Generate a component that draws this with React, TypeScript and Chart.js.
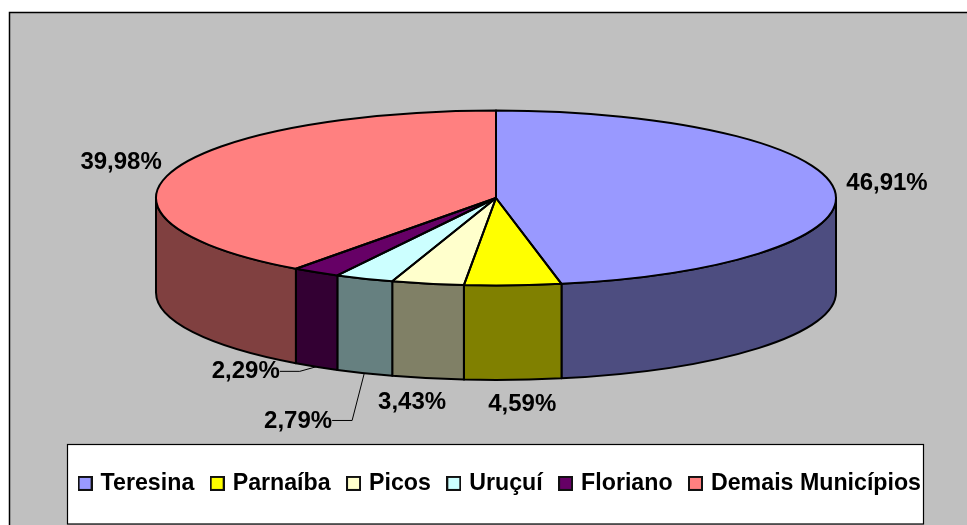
import React, { useEffect, useRef } from "react";
import { Chart, registerables } from "chart.js";

Chart.register(...registerables);

const categories = ["Teresina", "Parnaíba", "Picos", "Uruçuí", "Floriano", "Demais Municípios"];
const shares = [46.91, 4.59, 3.43, 2.79, 2.29, 39.98];
const colors = ["#9999FF", "#FFFF00", "#FFFFCC", "#CCFFFF", "#660066", "#FF8080"];
const sideColors = ["#4D4D80", "#808000", "#808066", "#668080", "#330033", "#804040"];

// layout (separate from the data): offset of each value label from its slice's rim midpoint
const labelOffsets: [number, number][] = [
  [52.6, -6],
  [9.4, 118.6],
  [-15.6, 118.2],
  [-66.2, 142.3],
  [-70.4, 99.6],
  [-51.6, -8.6],
];
const leaderSlices = [3, 4];
const RX = 340;
const RY = 87.5;
const CY = 198;
const DEPTH = 94.5;
const FONT = "'Liberation Sans', Arial, sans-serif";

function swatch(color: string) {
  const c = document.createElement("canvas");
  c.width = 15;
  c.height = 15;
  const g = c.getContext("2d")!;
  g.fillStyle = color;
  g.fillRect(0, 0, 15, 15);
  g.strokeStyle = "#111";
  g.lineWidth = 2;
  g.strokeRect(1, 1, 13, 13);
  return c;
}

const toScreen = (a: any, angle: number, cx: number) => ({
  x: cx + a.outerRadius * Math.cos(angle),
  y: CY + (a.outerRadius * Math.sin(angle) * RY) / RX,
});

const pie3d = {
  id: "pie3d",
  beforeDraw(chart: any) {
    const ctx = chart.ctx;
    ctx.save();
    ctx.fillStyle = "#fff";
    ctx.fillRect(0, 0, chart.width, chart.height);
    ctx.fillStyle = "#C0C0C0";
    ctx.strokeStyle = "#000";
    ctx.lineWidth = 1.5;
    ctx.fillRect(9.5, 12.5, chart.width, chart.height);
    ctx.strokeRect(9.5, 12.5, chart.width, chart.height);
    ctx.fillStyle = "#fff";
    ctx.fillRect(67.5, 444.5, 856, 79.5);
    ctx.lineWidth = 1.2;
    ctx.strokeRect(67.5, 444.5, 856, 79.5);
    ctx.restore();
  },
  beforeDatasetsDraw(chart: any) {
    const ctx = chart.ctx;
    const arcs = chart.getDatasetMeta(0).data;
    const wall = (a: any, i: number) => {
      const s = Math.max(a.startAngle, 0);
      const e = Math.min(a.endAngle, Math.PI);
      if (e <= s) return;
      const k = RY / RX;
      ctx.beginPath();
      ctx.ellipse(a.x, CY, a.outerRadius, a.outerRadius * k, 0, s, e);
      ctx.ellipse(a.x, CY + DEPTH, a.outerRadius, a.outerRadius * k, 0, e, s, true);
      ctx.closePath();
      ctx.fillStyle = sideColors[i];
      ctx.fill();
      ctx.strokeStyle = "#000";
      ctx.lineWidth = 2;
      ctx.lineJoin = "round";
      ctx.stroke();
    };
    ctx.save();
    arcs.forEach(wall);
    ctx.restore();
  },
  beforeDatasetDraw(chart: any) {
    const ctx = chart.ctx;
    const a = chart.getDatasetMeta(0).data[0];
    ctx.save();
    ctx.translate(0, CY);
    ctx.scale(1, RY / RX);
    ctx.translate(0, -a.y);
  },
  afterDatasetDraw(chart: any) {
    chart.ctx.restore();
  },
  afterDatasetsDraw(chart: any) {
    const ctx = chart.ctx;
    const arcs = chart.getDatasetMeta(0).data;
    ctx.save();
    ctx.strokeStyle = "#000";
    ctx.lineWidth = 2;
    ctx.lineJoin = "round";
    arcs.forEach((a: any) => {
      const p = toScreen(a, a.startAngle, a.x);
      ctx.beginPath();
      ctx.moveTo(a.x, CY);
      ctx.lineTo(p.x, p.y);
      ctx.ellipse(a.x, CY, a.outerRadius, (a.outerRadius * RY) / RX, 0, a.startAngle, a.endAngle);
      ctx.closePath();
      ctx.stroke();
    });
    ctx.font = `bold 24px ${FONT}`;
    ctx.fillStyle = "#000";
    ctx.textAlign = "center";
    ctx.textBaseline = "middle";
    arcs.forEach((a: any, i: number) => {
      const rim = toScreen(a, (a.startAngle + a.endAngle) / 2, a.x);
      const x = rim.x + labelOffsets[i][0];
      const y = rim.y + labelOffsets[i][1];
      const text = chart.data.datasets[0].data[i].toFixed(2).replace(".", ",") + "%";
      ctx.fillText(text, x, y);
      if (leaderSlices.includes(i)) {
        const right = x + ctx.measureText(text).width / 2;
        ctx.lineWidth = 1;
        ctx.beginPath();
        ctx.moveTo(right, y - 0.5);
        ctx.lineTo(right + 20, y - 0.5);
        ctx.lineTo(rim.x, rim.y + DEPTH);
        ctx.stroke();
      }
    });
    ctx.restore();
  },
};

export default function App() {
  const ref = useRef<HTMLCanvasElement>(null);
  useEffect(() => {
    const chart = new Chart(ref.current!, {
      type: "pie",
      data: {
        labels: categories,
        datasets: [
          {
            data: shares,
            backgroundColor: colors,
            borderWidth: 0,
            radius: RX,
            clip: false,
          } as any,
        ],
      },
      options: {
        responsive: false,
        animation: false,
        layout: { padding: { left: 52, right: 27, top: 0, bottom: 20 } },
        plugins: {
          tooltip: { enabled: false },
          legend: {
            position: "bottom",
            align: "end",
            labels: {
              color: "#000",
              font: { family: FONT, size: 23.2, weight: "bold" },
              padding: 19,
              usePointStyle: true,
              pointStyleWidth: 7.8,
              generateLabels: (c: any) =>
                c.data.labels.map((text: string, i: number) => ({
                  text,
                  index: i,
                  hidden: false,
                  fontColor: "#000",
                  fillStyle: colors[i],
                  strokeStyle: "#000",
                  lineWidth: 1,
                  pointStyle: swatch(colors[i]),
                })),
            },
          },
        },
      },
      plugins: [pie3d],
    } as any);
    return () => chart.destroy();
  }, []);
  return (
    <canvas
      ref={ref}
      width={967}
      height={525}
      style={{ position: "fixed", left: 0, top: 0, display: "block", width: 967, height: 525 }}
    />
  );
}
